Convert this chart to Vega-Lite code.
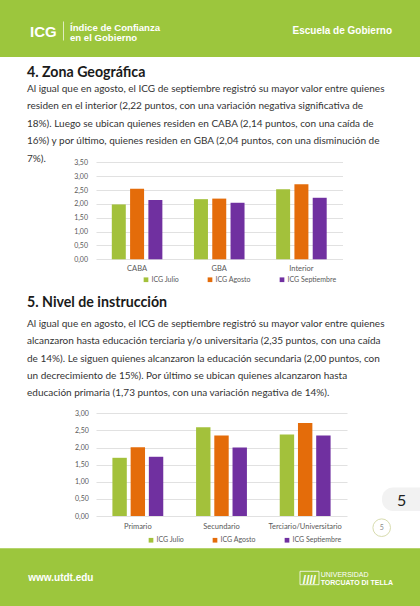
{
  "$schema": "https://vega.github.io/schema/vega-lite/v6.json",
  "width": 420,
  "height": 606,
  "padding": 0,
  "autosize": {"type": "none"},
  "background": "#ffffff",
  "config": {
    "view": {"stroke": null},
    "font": "Lato",
    "axis": {"labelFont": "Lato", "labelColor": "#595959", "domain": false, "ticks": false, "title": null},
    "legend": {"labelFont": "Lato", "labelColor": "#595959"}
  },
  "datasets": {
    "zona": [
      {"zona": "CABA", "serie": "ICG Julio", "valor": 1.98},
      {"zona": "CABA", "serie": "ICG Agosto", "valor": 2.55},
      {"zona": "CABA", "serie": "ICG Septiembre", "valor": 2.14},
      {"zona": "GBA", "serie": "ICG Julio", "valor": 2.17},
      {"zona": "GBA", "serie": "ICG Agosto", "valor": 2.19},
      {"zona": "GBA", "serie": "ICG Septiembre", "valor": 2.04},
      {"zona": "Interior", "serie": "ICG Julio", "valor": 2.53},
      {"zona": "Interior", "serie": "ICG Agosto", "valor": 2.71},
      {"zona": "Interior", "serie": "ICG Septiembre", "valor": 2.22}
    ],
    "nivel": [
      {"nivel": "Primario", "serie": "ICG Julio", "valor": 1.70},
      {"nivel": "Primario", "serie": "ICG Agosto", "valor": 2.01},
      {"nivel": "Primario", "serie": "ICG Septiembre", "valor": 1.73},
      {"nivel": "Secundario", "serie": "ICG Julio", "valor": 2.59},
      {"nivel": "Secundario", "serie": "ICG Agosto", "valor": 2.35},
      {"nivel": "Secundario", "serie": "ICG Septiembre", "valor": 2.00},
      {"nivel": "Terciario/Universitario", "serie": "ICG Julio", "valor": 2.38},
      {"nivel": "Terciario/Universitario", "serie": "ICG Agosto", "valor": 2.72},
      {"nivel": "Terciario/Universitario", "serie": "ICG Septiembre", "valor": 2.35}
    ]
  },
  "layer": [
    {
      "layer": [
        {
          "data": {"values": [{"bloque": "encabezado"}]},
          "mark": {"type": "rect", "color": "#9cc63d"},
          "encoding": {
            "x": {"datum": 0, "type": "quantitative", "scale": {"domain": [0, 420], "range": [0, 420], "nice": false}, "axis": null},
            "x2": {"datum": 420},
            "y": {"datum": 0, "type": "quantitative", "scale": {"domain": [0, 606], "range": [0, 606], "nice": false}, "axis": null},
            "y2": {"datum": 57}
          }
        },
        {
          "data": {"values": [{"bloque": "pie"}]},
          "mark": {"type": "rect", "color": "#9cc63d"},
          "encoding": {
            "x": {"datum": 0, "type": "quantitative", "scale": {"domain": [0, 420], "range": [0, 420], "nice": false}, "axis": null},
            "x2": {"datum": 420},
            "y": {"datum": 548.3, "type": "quantitative", "scale": {"domain": [0, 606], "range": [0, 606], "nice": false}, "axis": null},
            "y2": {"datum": 606}
          }
        },
        {
          "data": {"values": [{"bloque": "solapa"}]},
          "mark": {"type": "rect", "color": "#f2f2f2", "cornerRadius": 11},
          "encoding": {
            "x": {"datum": 382, "type": "quantitative", "scale": {"domain": [0, 420], "range": [0, 420], "nice": false}, "axis": null},
            "x2": {"datum": 440},
            "y": {"datum": 487.5, "type": "quantitative", "scale": {"domain": [0, 606], "range": [0, 606], "nice": false}, "axis": null},
            "y2": {"datum": 511}
          }
        },
        {
          "data": {"values": [{"bloque": "circulo"}]},
          "mark": {"type": "point", "shape": "circle", "filled": false, "stroke": "#d8dcae", "strokeWidth": 1, "size": 310, "opacity": 1},
          "encoding": {
            "x": {"datum": 381.7, "type": "quantitative", "scale": {"domain": [0, 420], "range": [0, 420], "nice": false}, "axis": null},
            "y": {"datum": 527.7, "type": "quantitative", "scale": {"domain": [0, 606], "range": [0, 606], "nice": false}, "axis": null}
          }
        },
        {
          "data": {"values": [{"bloque": "divisor"}]},
          "mark": {"type": "rule", "color": "#ffffff", "strokeWidth": 0.8, "opacity": 0.85},
          "encoding": {
            "x": {"datum": 63.5, "type": "quantitative", "scale": {"domain": [0, 420], "range": [0, 420], "nice": false}, "axis": null},
            "y": {"datum": 21.5, "type": "quantitative", "scale": {"domain": [0, 606], "range": [0, 606], "nice": false}, "axis": null},
            "y2": {"datum": 40.5}
          }
        },
        {
          "data": {"values": [{"bloque": "logo"}]},
          "mark": {"type": "rect", "fill": null, "fillOpacity": 0, "stroke": "#ffffff", "strokeWidth": 0.8},
          "encoding": {
            "x": {"datum": 300, "type": "quantitative", "scale": {"domain": [0, 420], "range": [0, 420], "nice": false}, "axis": null},
            "x2": {"datum": 319},
            "y": {"datum": 571.3, "type": "quantitative", "scale": {"domain": [0, 606], "range": [0, 606], "nice": false}, "axis": null},
            "y2": {"datum": 584.7}
          }
        },
        {
          "data": {"values": [{"texto": "ICG"}]},
          "mark": {"type": "text", "font": "Liberation Sans", "fontWeight": "bold", "fontSize": 15, "color": "#ffffff", "align": "left", "baseline": "alphabetic"},
          "encoding": {
            "x": {"datum": 30, "type": "quantitative", "scale": {"domain": [0, 420], "range": [0, 420], "nice": false}, "axis": null},
            "y": {"datum": 36.7, "type": "quantitative", "scale": {"domain": [0, 606], "range": [0, 606], "nice": false}, "axis": null},
            "text": {"field": "texto"}
          }
        },
        {
          "data": {"values": [{"texto": "Índice de Confianza"}, {"texto": "en el Gobierno"}]},
          "mark": {"type": "text", "font": "Liberation Sans", "fontWeight": "bold", "fontSize": 9.6, "color": "#ffffff", "align": "left", "baseline": "alphabetic"},
          "encoding": {
            "x": {"datum": 70, "type": "quantitative", "scale": {"domain": [0, 420], "range": [0, 420], "nice": false}, "axis": null},
            "y": {"field": "texto", "type": "ordinal", "sort": ["Índice de Confianza", "en el Gobierno"], "scale": {"type": "point", "range": [31.2, 41.3], "padding": 0}, "axis": null},
            "text": {"field": "texto"}
          }
        },
        {
          "data": {"values": [{"texto": "Escuela de Gobierno"}]},
          "mark": {"type": "text", "font": "Liberation Sans", "fontWeight": "bold", "fontSize": 10, "color": "#ffffff", "align": "right", "baseline": "alphabetic"},
          "encoding": {
            "x": {"datum": 392, "type": "quantitative", "scale": {"domain": [0, 420], "range": [0, 420], "nice": false}, "axis": null},
            "y": {"datum": 34, "type": "quantitative", "scale": {"domain": [0, 606], "range": [0, 606], "nice": false}, "axis": null},
            "text": {"field": "texto"}
          }
        },
        {
          "data": {"values": [{"texto": "4. Zona Geográfica"}]},
          "mark": {"type": "text", "font": "Lato", "fontWeight": "bold", "fontSize": 14.2, "color": "#1a1a1a", "align": "left", "baseline": "alphabetic"},
          "encoding": {
            "x": {"datum": 27, "type": "quantitative", "scale": {"domain": [0, 420], "range": [0, 420], "nice": false}, "axis": null},
            "y": {"datum": 77, "type": "quantitative", "scale": {"domain": [0, 606], "range": [0, 606], "nice": false}, "axis": null},
            "text": {"field": "texto"}
          }
        },
        {
          "data": {"values": [{"texto": "Al igual que en agosto, el ICG de septiembre registró su mayor valor entre quienes\nresiden en el interior (2,22 puntos, con una variación negativa significativa de\n18%). Luego se ubican quienes residen en CABA (2,14 puntos, con una caída de\n16%) y por último, quienes residen en GBA (2,04 puntos, con una disminución de\n7%)."}]},
          "mark": {"type": "text", "font": "Lato", "fontSize": 10, "lineHeight": 17.6, "lineBreak": "\n", "color": "#333333", "align": "left", "baseline": "alphabetic"},
          "encoding": {
            "x": {"datum": 27, "type": "quantitative", "scale": {"domain": [0, 420], "range": [0, 420], "nice": false}, "axis": null},
            "y": {"datum": 91.5, "type": "quantitative", "scale": {"domain": [0, 606], "range": [0, 606], "nice": false}, "axis": null},
            "text": {"field": "texto"}
          }
        },
        {
          "data": {"values": [{"texto": "5. Nivel de instrucción"}]},
          "mark": {"type": "text", "font": "Lato", "fontWeight": "bold", "fontSize": 14.2, "color": "#1a1a1a", "align": "left", "baseline": "alphabetic"},
          "encoding": {
            "x": {"datum": 27, "type": "quantitative", "scale": {"domain": [0, 420], "range": [0, 420], "nice": false}, "axis": null},
            "y": {"datum": 306.5, "type": "quantitative", "scale": {"domain": [0, 606], "range": [0, 606], "nice": false}, "axis": null},
            "text": {"field": "texto"}
          }
        },
        {
          "data": {"values": [{"texto": "Al igual que en agosto, el ICG de septiembre registró su mayor valor entre quienes\nalcanzaron hasta educación terciaria y/o universitaria (2,35 puntos, con una caída\nde 14%). Le siguen quienes alcanzaron la educación secundaria (2,00 puntos, con\nun decrecimiento de 15%). Por último se ubican quienes alcanzaron hasta\neducación primaria (1,73 puntos, con una variación negativa de 14%)."}]},
          "mark": {"type": "text", "font": "Lato", "fontSize": 10, "lineHeight": 17.3, "lineBreak": "\n", "color": "#333333", "align": "left", "baseline": "alphabetic"},
          "encoding": {
            "x": {"datum": 27, "type": "quantitative", "scale": {"domain": [0, 420], "range": [0, 420], "nice": false}, "axis": null},
            "y": {"datum": 327, "type": "quantitative", "scale": {"domain": [0, 606], "range": [0, 606], "nice": false}, "axis": null},
            "text": {"field": "texto"}
          }
        },
        {
          "data": {"values": [{"texto": "5"}]},
          "mark": {"type": "text", "font": "Lato", "fontSize": 16, "color": "#222222", "align": "center", "baseline": "alphabetic"},
          "encoding": {
            "x": {"datum": 401.7, "type": "quantitative", "scale": {"domain": [0, 420], "range": [0, 420], "nice": false}, "axis": null},
            "y": {"datum": 505.7, "type": "quantitative", "scale": {"domain": [0, 606], "range": [0, 606], "nice": false}, "axis": null},
            "text": {"field": "texto"}
          }
        },
        {
          "data": {"values": [{"texto": "5"}]},
          "mark": {"type": "text", "font": "Lato", "fontSize": 7, "color": "#8a8a8a", "align": "center", "baseline": "middle"},
          "encoding": {
            "x": {"datum": 381.7, "type": "quantitative", "scale": {"domain": [0, 420], "range": [0, 420], "nice": false}, "axis": null},
            "y": {"datum": 528, "type": "quantitative", "scale": {"domain": [0, 606], "range": [0, 606], "nice": false}, "axis": null},
            "text": {"field": "texto"}
          }
        },
        {
          "data": {"values": [{"texto": "www.utdt.edu"}]},
          "mark": {"type": "text", "font": "Liberation Sans", "fontWeight": "bold", "fontSize": 10, "color": "#ffffff", "align": "left", "baseline": "alphabetic"},
          "encoding": {
            "x": {"datum": 28.3, "type": "quantitative", "scale": {"domain": [0, 420], "range": [0, 420], "nice": false}, "axis": null},
            "y": {"datum": 580.7, "type": "quantitative", "scale": {"domain": [0, 606], "range": [0, 606], "nice": false}, "axis": null},
            "text": {"field": "texto"}
          }
        },
        {
          "data": {"values": [{"texto": "////"}]},
          "mark": {"type": "text", "font": "Liberation Sans", "fontWeight": "bold", "fontSize": 12, "color": "#ffffff", "align": "center", "baseline": "alphabetic"},
          "encoding": {
            "x": {"datum": 309.5, "type": "quantitative", "scale": {"domain": [0, 420], "range": [0, 420], "nice": false}, "axis": null},
            "y": {"datum": 583.5, "type": "quantitative", "scale": {"domain": [0, 606], "range": [0, 606], "nice": false}, "axis": null},
            "text": {"field": "texto"}
          }
        },
        {
          "data": {"values": [{"texto": "UNIVERSIDAD"}]},
          "mark": {"type": "text", "font": "Liberation Sans", "fontSize": 7, "color": "#ffffff", "align": "left", "baseline": "alphabetic"},
          "encoding": {
            "x": {"datum": 320.7, "type": "quantitative", "scale": {"domain": [0, 420], "range": [0, 420], "nice": false}, "axis": null},
            "y": {"datum": 577.2, "type": "quantitative", "scale": {"domain": [0, 606], "range": [0, 606], "nice": false}, "axis": null},
            "text": {"field": "texto"}
          }
        },
        {
          "data": {"values": [{"texto": "TORCUATO DI TELLA"}]},
          "mark": {"type": "text", "font": "Liberation Sans", "fontWeight": "bold", "fontSize": 7, "color": "#ffffff", "align": "left", "baseline": "alphabetic"},
          "encoding": {
            "x": {"datum": 320.7, "type": "quantitative", "scale": {"domain": [0, 420], "range": [0, 420], "nice": false}, "axis": null},
            "y": {"datum": 584.6, "type": "quantitative", "scale": {"domain": [0, 606], "range": [0, 606], "nice": false}, "axis": null},
            "text": {"field": "texto"}
          }
        }
      ],
      "resolve": {"scale": {"y": "independent"}}
    },
    {
      "data": {"name": "zona"},
      "mark": {"type": "bar"},
      "encoding": {
        "x": {
          "field": "zona", "type": "nominal", "sort": ["CABA", "GBA", "Interior"],
          "scale": {"range": [96, 342.5], "paddingInner": 0, "paddingOuter": 0},
          "axis": {"orient": "bottom", "offset": -346.7, "labelPadding": 5.5, "labelFontSize": 7.5, "labelAngle": 0, "grid": false, "domain": false, "ticks": false, "title": null}
        },
        "xOffset": {
          "field": "serie", "type": "nominal", "sort": ["ICG Julio", "ICG Agosto", "ICG Septiembre"],
          "scale": {"paddingInner": 0.235, "paddingOuter": 0.864}
        },
        "y": {
          "field": "valor", "type": "quantitative",
          "scale": {"domain": [0, 3.5], "range": [259.3, 162.3], "nice": false},
          "axis": {"orient": "left", "offset": -96, "labelPadding": 8.5, "labelFontSize": 7, "values": [0, 0.5, 1, 1.5, 2, 2.5, 3, 3.5], "labelExpr": "replace(format(datum.value, '.2f'), '.', ',')", "grid": true, "gridColor": "#d9d9d9", "gridWidth": 0.8, "domain": false, "ticks": false, "title": null}
        },
        "color": {
          "field": "serie", "type": "nominal", "sort": ["ICG Julio", "ICG Agosto", "ICG Septiembre"],
          "scale": {"domain": ["ICG Julio", "ICG Agosto", "ICG Septiembre"], "range": ["#a3c13b", "#e46c0a", "#7030a0"]},
          "legend": {"orient": "none", "legendX": 142.5, "legendY": 276, "direction": "horizontal", "title": null, "symbolType": "square", "symbolSize": 22, "symbolStrokeWidth": 0, "labelFontSize": 7, "labelOffset": 2, "columnPadding": 27, "padding": 0}
        }
      }
    },
    {
      "data": {"name": "nivel"},
      "mark": {"type": "bar"},
      "encoding": {
        "x": {
          "field": "nivel", "type": "nominal", "sort": ["Primario", "Secundario", "Terciario/Universitario"],
          "scale": {"range": [96, 347], "paddingInner": 0, "paddingOuter": 0},
          "axis": {"orient": "bottom", "offset": -90, "labelPadding": 6.5, "labelFontSize": 7.5, "labelAngle": 0, "grid": false, "domain": false, "ticks": false, "title": null}
        },
        "xOffset": {
          "field": "serie", "type": "nominal", "sort": ["ICG Julio", "ICG Agosto", "ICG Septiembre"],
          "scale": {"paddingInner": 0.21, "paddingOuter": 0.9}
        },
        "y": {
          "field": "valor", "type": "quantitative",
          "scale": {"domain": [0, 3], "range": [516, 413.3], "nice": false},
          "axis": {"orient": "left", "offset": -96, "labelPadding": 7.7, "labelFontSize": 7, "values": [0, 0.5, 1, 1.5, 2, 2.5, 3], "labelExpr": "replace(format(datum.value, '.2f'), '.', ',')", "grid": true, "gridColor": "#d9d9d9", "gridWidth": 0.8, "domain": false, "ticks": false, "title": null}
        },
        "color": {
          "field": "serie", "type": "nominal", "sort": ["ICG Julio", "ICG Agosto", "ICG Septiembre"],
          "scale": {"domain": ["ICG Julio", "ICG Agosto", "ICG Septiembre"], "range": ["#a3c13b", "#e46c0a", "#7030a0"]},
          "legend": {"orient": "none", "legendX": 147.5, "legendY": 536.5, "direction": "horizontal", "title": null, "symbolType": "square", "symbolSize": 22, "symbolStrokeWidth": 0, "labelFontSize": 7, "labelOffset": 2, "columnPadding": 27, "padding": 0}
        }
      }
    }
  ],
  "resolve": {
    "scale": {"x": "independent", "y": "independent", "color": "independent", "xOffset": "independent"},
    "axis": {"x": "independent", "y": "independent"},
    "legend": {"color": "independent"}
  }
}
